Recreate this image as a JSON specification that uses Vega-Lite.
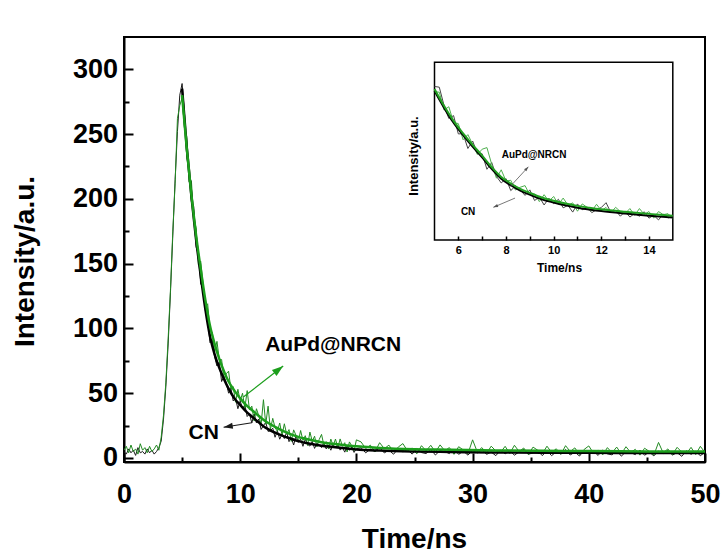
{
  "$schema": "https://vega.github.io/schema/vega-lite/v6.json",
  "width": 581,
  "height": 425,
  "autosize": {"type": "none"},
  "padding": {"left": 124, "top": 37, "right": 18, "bottom": 90},
  "background": "white",
  "config": {
    "font": "Liberation Sans",
    "view": {"stroke": "black", "strokeWidth": 2},
    "axis": {"grid": false, "labelColor": "black", "titleColor": "black", "tickColor": "black", "domainColor": "black", "labelFont": "Liberation Sans", "titleFont": "Liberation Sans"}
  },
  "datasets": {
    "main": [
      {"t":0,"cn":5,"au":6},{"t":0.2,"cn":3,"au":9},{"t":0.4,"cn":7,"au":4},{"t":0.6,"cn":4,"au":10},{"t":0.8,"cn":6,"au":5},
      {"t":1,"cn":2,"au":7},{"t":1.2,"cn":8,"au":3},{"t":1.4,"cn":4,"au":11},{"t":1.6,"cn":5,"au":6},{"t":1.8,"cn":3,"au":8},
      {"t":2,"cn":7,"au":4},{"t":2.2,"cn":4,"au":9},{"t":2.4,"cn":6,"au":5},{"t":2.6,"cn":3,"au":7},{"t":2.8,"cn":5,"au":10},
      {"t":3,"cn":8,"au":6},{"t":3.2,"cn":13,"au":16},{"t":3.4,"cn":30,"au":33},{"t":3.6,"cn":55,"au":58},{"t":3.8,"cn":88,"au":92},
      {"t":4,"cn":128,"au":130},{"t":4.2,"cn":172,"au":175},{"t":4.4,"cn":215,"au":212},{"t":4.6,"cn":252,"au":262},{"t":4.8,"cn":280,"au":272},
      {"t":5,"cn":289,"au":278},{"t":5.2,"cn":267,"au":255},{"t":5.4,"cn":232,"au":248},{"t":5.6,"cn":223,"au":213},{"t":5.8,"cn":198,"au":214},
      {"t":6,"cn":194,"au":185},{"t":6.2,"cn":163,"au":178},{"t":6.4,"cn":157,"au":149},{"t":6.6,"cn":134,"au":152},{"t":6.8,"cn":134,"au":135},
      {"t":7,"cn":114,"au":117},{"t":7.2,"cn":106,"au":119},{"t":7.4,"cn":89,"au":99},{"t":7.6,"cn":91,"au":97},{"t":7.8,"cn":78,"au":82},
      {"t":8,"cn":71,"au":90},{"t":8.2,"cn":74,"au":76},{"t":8.4,"cn":59,"au":76},{"t":8.6,"cn":63,"au":61},{"t":8.8,"cn":58,"au":65},
      {"t":9,"cn":50,"au":67},{"t":9.2,"cn":54,"au":53},{"t":9.4,"cn":44,"au":55},{"t":9.6,"cn":46,"au":43},{"t":9.8,"cn":38,"au":53},
      {"t":10,"cn":44,"au":44},{"t":10.2,"cn":38,"au":50},{"t":10.4,"cn":41,"au":38.5},{"t":10.6,"cn":32,"au":52},{"t":10.8,"cn":34,"au":37},
      {"t":11,"cn":27,"au":40},{"t":11.2,"cn":34,"au":28.5},{"t":11.4,"cn":27,"au":38},{"t":11.6,"cn":30,"au":32.5},{"t":11.8,"cn":22,"au":26},
      {"t":12,"cn":25,"au":45},{"t":12.2,"cn":27.5,"au":26},{"t":12.4,"cn":20.5,"au":40},{"t":12.6,"cn":21,"au":22},{"t":12.8,"cn":23,"au":30.6},
      {"t":13,"cn":16,"au":23.4},{"t":13.2,"cn":21,"au":20.6},{"t":13.4,"cn":14.5,"au":27},{"t":13.6,"cn":18.5,"au":17.6},{"t":13.8,"cn":15,"au":26.4},
      {"t":14,"cn":20,"au":18.4},{"t":14.2,"cn":12.6,"au":21.9},{"t":14.4,"cn":15.6,"au":12.8},{"t":14.6,"cn":10,"au":21.7},{"t":14.8,"cn":17,"au":17.5},
      {"t":15,"cn":12,"au":12.7},{"t":15.2,"cn":14.5,"au":21.2},{"t":15.4,"cn":9,"au":13.5},{"t":15.6,"cn":14.5,"au":17.2},{"t":15.8,"cn":10.5,"au":9.6},
      {"t":16,"cn":9.2,"au":20},{"t":16.2,"cn":12.8,"au":13},{"t":16.4,"cn":7.4,"au":16.8},{"t":16.6,"cn":11.3,"au":8.6},{"t":16.8,"cn":10.1,"au":14.3},
      {"t":17,"cn":8,"au":18.2},{"t":17.2,"cn":12,"au":9.9},{"t":17.4,"cn":7,"au":12.6},{"t":17.6,"cn":9.8,"au":6.9},{"t":17.8,"cn":6,"au":14.6},
      {"t":18,"cn":10.3,"au":9.4},{"t":18.2,"cn":7.7,"au":14.6},{"t":18.4,"cn":10.5,"au":7.9},{"t":18.6,"cn":6.1,"au":14.7},{"t":18.8,"cn":8,"au":9},
      {"t":19,"cn":4.5,"au":11.8},{"t":19.2,"cn":9.4,"au":4.6},{"t":19.4,"cn":5.9,"au":12.4},{"t":19.6,"cn":8.4,"au":9.3},{"t":19.8,"cn":4.3,"au":5.6},
      {"t":20,"cn":7.2,"au":14},{"t":20.4,"cn":7.9,"au":12.4},{"t":20.8,"cn":4.0,"au":7.3},{"t":21.2,"cn":6.8,"au":9.9},{"t":21.6,"cn":4.9,"au":4.8},
      {"t":22,"cn":8.2,"au":11.8},{"t":22.4,"cn":3.9,"au":7.2},{"t":22.8,"cn":6.0,"au":9.9},{"t":23.2,"cn":2.9,"au":4.6},{"t":23.6,"cn":7.3,"au":8.4},
      {"t":24,"cn":4.7,"au":11.1},{"t":24.4,"cn":6.4,"au":5.4},{"t":24.8,"cn":3.0,"au":7.7},{"t":25.2,"cn":7.2,"au":3.2},{"t":25.6,"cn":4.2,"au":9.5},
      {"t":26,"cn":3.4,"au":5.5},{"t":26.4,"cn":6.6,"au":9.8},{"t":26.8,"cn":2.3,"au":4.5},{"t":27.2,"cn":5.8,"au":10.1},{"t":27.6,"cn":5.0,"au":5.6},
      {"t":28,"cn":3.4,"au":8.0},{"t":28.4,"cn":6.9,"au":2.8},{"t":28.8,"cn":2.8,"au":8.7},{"t":29.2,"cn":5.3,"au":6.2},{"t":29.6,"cn":2.2,"au":3.3},
      {"t":30,"cn":5.9,"au":14},{"t":30.4,"cn":3.9,"au":4.8},{"t":30.8,"cn":6.4,"au":8.0},{"t":31.2,"cn":2.8,"au":3.5},{"t":31.6,"cn":4.6,"au":9.1},
      {"t":32,"cn":1.8,"au":5.5},{"t":32.4,"cn":6.0,"au":4.3},{"t":32.8,"cn":3.2,"au":9.0},{"t":33.2,"cn":5.5,"au":3.4},{"t":33.6,"cn":2.2,"au":9.8},
      {"t":34,"cn":4.7,"au":5.0},{"t":34.4,"cn":6.6,"au":7.7},{"t":34.8,"cn":2.9,"au":2.6},{"t":35.2,"cn":3.9,"au":8.4},{"t":35.6,"cn":5.6,"au":6.0},
      {"t":36,"cn":1.8,"au":3.2},{"t":36.4,"cn":5.6,"au":9.1},{"t":36.8,"cn":1.8,"au":4.3},{"t":37.2,"cn":4.8,"au":7.1},{"t":37.6,"cn":3.0,"au":2.8},
      {"t":38,"cn":6.5,"au":9.5},{"t":38.4,"cn":2.3,"au":5.0},{"t":38.8,"cn":4.5,"au":7.8},{"t":39.2,"cn":1.5,"au":2.6},{"t":39.6,"cn":6.0,"au":6.6},
      {"t":40,"cn":3.5,"au":9.3},{"t":40.4,"cn":5.2,"au":3.7},{"t":40.8,"cn":2.0,"au":6.1},{"t":41.2,"cn":6.2,"au":2.4},{"t":41.6,"cn":3.2,"au":8.0},
      {"t":42,"cn":2.4,"au":4.0},{"t":42.4,"cn":5.7,"au":8.4},{"t":42.8,"cn":1.4,"au":3.2},{"t":43.2,"cn":4.9,"au":8.7},{"t":43.6,"cn":4.2,"au":4.3},
      {"t":44,"cn":2.6,"au":6.7},{"t":44.4,"cn":6.1,"au":2.2},{"t":44.8,"cn":2.1,"au":7.5},{"t":45.2,"cn":4.6,"au":5.1},{"t":45.6,"cn":1.6,"au":2.3},
      {"t":46,"cn":5.4,"au":12},{"t":46.4,"cn":3.4,"au":3.9},{"t":46.8,"cn":5.8,"au":7.0},{"t":47.2,"cn":2.3,"au":2.6},{"t":47.6,"cn":4.1,"au":8.2},
      {"t":48,"cn":1.3,"au":4.6},{"t":48.4,"cn":5.6,"au":3.4},{"t":48.8,"cn":2.8,"au":8.2},{"t":49.2,"cn":5.1,"au":2.6},{"t":49.6,"cn":1.8,"au":9.0},
      {"t":50,"cn":4.3,"au":4.2}
    ],
    "fit": [
      {"t":5,"cn":285,"au":280},{"t":5.4,"cn":240,"au":239},{"t":5.8,"cn":202,"au":203},{"t":6.2,"cn":169,"au":172},{"t":6.6,"cn":141,"au":146},
      {"t":7,"cn":115,"au":122},{"t":7.4,"cn":94,"au":102},{"t":7.8,"cn":80,"au":88},{"t":8.2,"cn":69.5,"au":76.5},{"t":8.6,"cn":61,"au":67},
      {"t":9,"cn":53.5,"au":59},{"t":9.5,"cn":46,"au":52},{"t":10,"cn":41,"au":46},{"t":10.5,"cn":36,"au":41},{"t":11,"cn":32,"au":37},
      {"t":11.5,"cn":28.2,"au":33.2},{"t":12,"cn":24.5,"au":29.5},{"t":13,"cn":19.5,"au":24},{"t":14,"cn":16,"au":19.6},{"t":15,"cn":13,"au":16.3},
      {"t":16,"cn":11,"au":14},{"t":17,"cn":9.5,"au":12.2},{"t":18,"cn":8.5,"au":10.9},{"t":19,"cn":7.5,"au":9.8},{"t":20,"cn":6.6,"au":9},
      {"t":22,"cn":5.7,"au":7.8},{"t":25,"cn":5.0,"au":6.8},{"t":28,"cn":4.65,"au":6.4},{"t":32,"cn":4.28,"au":5.87},{"t":36,"cn":4.08,"au":5.56},
      {"t":40,"cn":4.0,"au":5.3},{"t":45,"cn":3.88,"au":5.08},{"t":50,"cn":3.8,"au":5.0}
    ],
    "arrows": [
      {"s":"au","t1":10.27,"v1":47,"t2":13.7,"v2":71},
      {"s":"cn","t1":11.0,"v1":27.2,"t2":8.57,"v2":23.7}
    ],
    "labels": [
      {"t":18.0,"v":87,"label":"AuPd@NRCN"},
      {"t":6.86,"v":19,"label":"CN"}
    ],
    "frame": [{"x1":5,"x2":15,"y1":0,"y2":100}],
    "inset": [
      {"t":5,"cn":86.4,"au":83.4},{"t":5.2,"cn":86,"au":83.2},{"t":5.4,"cn":75.7,"au":73.1},{"t":5.6,"cn":68.4,"au":75},{"t":5.8,"cn":70,"au":66.2},
      {"t":6,"cn":59.7,"au":65.5},{"t":6.2,"cn":59.8,"au":56.4},{"t":6.4,"cn":51.5,"au":59.3},{"t":6.6,"cn":55.7,"au":53.9},{"t":6.8,"cn":48.7,"au":48.1},
      {"t":7,"cn":48.5,"au":51.1},{"t":7.2,"cn":39.8,"au":52},{"t":7.4,"cn":43.6,"au":42.6},{"t":7.6,"cn":35.8,"au":34.8},{"t":7.8,"cn":32.1,"au":39.5},
      {"t":8,"cn":34.6,"au":33.2},{"t":8.2,"cn":27.8,"au":33.6},{"t":8.4,"cn":30.4,"au":28.1},{"t":8.6,"cn":28.1,"au":29.7},{"t":8.8,"cn":25.1,"au":30.6},
      {"t":9,"cn":28.2,"au":25.3},{"t":9.2,"cn":22.2,"au":25.9},{"t":9.4,"cn":24.2,"au":21.6},{"t":9.6,"cn":19.7,"au":25.5},{"t":9.8,"cn":23.5,"au":21.8},
      {"t":10,"cn":20.5,"au":24.5},{"t":10.2,"cn":22.9,"au":20},{"t":10.4,"cn":18.1,"au":23.6},{"t":10.6,"cn":19.5,"au":19.6},{"t":10.8,"cn":15.7,"au":20.9},
      {"t":11,"cn":20.3,"au":16.2},{"t":11.2,"cn":17,"au":20.3},{"t":11.4,"cn":18.4,"au":18.4},{"t":11.6,"cn":15.4,"au":16.3},{"t":11.8,"cn":17,"au":20.1},
      {"t":12,"cn":18.3,"au":16.6},{"t":12.2,"cn":21,"au":18.3},{"t":12.4,"cn":15.5,"au":15.2},{"t":12.6,"cn":16.6,"au":18.4},{"t":12.8,"cn":13.4,"au":16},
      {"t":13,"cn":16.1,"au":14.9},{"t":13.2,"cn":12.9,"au":17.7},{"t":13.4,"cn":15,"au":13.9},{"t":13.6,"cn":13.4,"au":17.7},{"t":13.8,"cn":15.9,"au":14.4},
      {"t":14,"cn":12.3,"au":16},{"t":14.2,"cn":13.9,"au":12.3},{"t":14.4,"cn":11.3,"au":16},{"t":14.6,"cn":14.6,"au":14.3},{"t":14.8,"cn":12.4,"au":14.8},
      {"t":15,"cn":13.6,"au":12.1}
    ],
    "ifit": [
      {"t":5,"cn":84,"au":85},{"t":5.4,"cn":74.5,"au":75.5},{"t":5.8,"cn":66,"au":67},{"t":6.2,"cn":59,"au":60},{"t":6.6,"cn":52.5,"au":53.5},
      {"t":7,"cn":46.5,"au":47.5},{"t":7.4,"cn":40,"au":41},{"t":7.8,"cn":34.5,"au":35.5},{"t":8.2,"cn":30.8,"au":31.8},{"t":8.6,"cn":27.8,"au":28.8},
      {"t":9,"cn":25.5,"au":26.5},{"t":9.5,"cn":22.9,"au":23.9},{"t":10,"cn":21.1,"au":22.1},{"t":10.5,"cn":19.5,"au":20.5},{"t":11,"cn":18.2,"au":19.2},
      {"t":11.5,"cn":17.2,"au":18.2},{"t":12,"cn":16.3,"au":17.3},{"t":13,"cn":14.9,"au":15.9},{"t":14,"cn":13.7,"au":14.7},{"t":15,"cn":12.6,"au":13.6}
    ],
    "iarrows": [
      {"s":"au","t1":8.17,"v1":30.0,"t2":8.94,"v2":41.2},
      {"s":"cn","t1":8.38,"v1":23.6,"t2":7.47,"v2":18.4}
    ],
    "ilabels": [
      {"t":9.18,"v":47.8,"label":"AuPd@NRCN"},
      {"t":6.41,"v":15.5,"label":"CN"}
    ]
  },
  "layer": [
    {
      "layer": [
        {
          "data": {"name": "main"},
          "mark": {"type": "line", "color": "#1a1a1a", "strokeWidth": 1, "clip": true},
          "encoding": {
            "x": {"field": "t", "type": "quantitative", "scale": {"domain": [0, 50], "nice": false, "zero": false},
              "axis": {"orient": "bottom", "values": [0, 10, 20, 30, 40, 50], "format": "d", "tickSize": -9, "tickWidth": 2, "domainWidth": 2,
                "labelFontSize": 27, "labelFontWeight": "bold", "labelPadding": 28, "labelFlush": false,
                "title": "Time/ns", "titleFontSize": 28, "titleFontWeight": "bold", "titleX": 290, "titleY": 63, "titleBaseline": "top", "titleAlign": "center"}},
            "y": {"field": "cn", "type": "quantitative", "scale": {"domain": [-3.1, 324.9], "nice": false, "zero": false},
              "axis": {"orient": "left", "values": [0, 50, 100, 150, 200, 250, 300], "format": "d", "tickSize": -9, "tickWidth": 2, "domainWidth": 2,
                "labelFontSize": 27, "labelFontWeight": "bold", "labelPadding": 15.5, "labelFlush": false,
                "title": "Intensity/a.u.", "titleFontSize": 28, "titleFontWeight": "bold", "titleAngle": 270, "titleBaseline": "bottom", "titleAlign": "center", "titleX": -85, "titleY": 224}}
          }
        },
        {
          "data": {"name": "main"},
          "mark": {"type": "line", "color": "#238b23", "strokeWidth": 1, "clip": true},
          "encoding": {"x": {"field": "t", "type": "quantitative"}, "y": {"field": "au", "type": "quantitative"}}
        },
        {
          "data": {"name": "fit"},
          "mark": {"type": "line", "color": "#000000", "strokeWidth": 2.5, "interpolate": "monotone"},
          "encoding": {"x": {"field": "t", "type": "quantitative"}, "y": {"field": "cn", "type": "quantitative"}}
        },
        {
          "data": {"name": "fit"},
          "mark": {"type": "line", "color": "#1c9e1c", "strokeWidth": 2.5, "interpolate": "monotone"},
          "encoding": {"x": {"field": "t", "type": "quantitative"}, "y": {"field": "au", "type": "quantitative"}}
        },
        {
          "data": {"name": "arrows"},
          "transform": [{"filter": "datum.s === 'au'"}],
          "mark": {"type": "rule", "color": "#1c9e1c", "strokeWidth": 1.2},
          "encoding": {"x": {"field": "t1", "type": "quantitative"}, "y": {"field": "v1", "type": "quantitative"}, "x2": {"field": "t2"}, "y2": {"field": "v2"}}
        },
        {
          "data": {"name": "arrows"},
          "transform": [{"filter": "datum.s === 'au'"}],
          "mark": {"type": "point", "shape": "M0,0L-0.5,1.5L0.5,1.5Z", "filled": true, "color": "#1c9e1c", "size": 230, "angle": 52, "opacity": 1},
          "encoding": {"x": {"field": "t2", "type": "quantitative"}, "y": {"field": "v2", "type": "quantitative"}}
        },
        {
          "data": {"name": "arrows"},
          "transform": [{"filter": "datum.s === 'cn'"}],
          "mark": {"type": "rule", "color": "#1a1a1a", "strokeWidth": 1.2},
          "encoding": {"x": {"field": "t1", "type": "quantitative"}, "y": {"field": "v1", "type": "quantitative"}, "x2": {"field": "t2"}, "y2": {"field": "v2"}}
        },
        {
          "data": {"name": "arrows"},
          "transform": [{"filter": "datum.s === 'cn'"}],
          "mark": {"type": "point", "shape": "M0,0L-0.5,1.5L0.5,1.5Z", "filled": true, "color": "#1a1a1a", "size": 150, "angle": 261, "opacity": 1},
          "encoding": {"x": {"field": "t2", "type": "quantitative"}, "y": {"field": "v2", "type": "quantitative"}}
        },
        {
          "data": {"name": "labels"},
          "mark": {"type": "text", "font": "Liberation Sans", "fontSize": 21, "fontWeight": "bold", "color": "black", "align": "center", "baseline": "middle"},
          "encoding": {"x": {"field": "t", "type": "quantitative"}, "y": {"field": "v", "type": "quantitative"}, "text": {"field": "label"}}
        }
      ]
    },
    {
      "data": {"name": "fit"},
      "mark": {"type": "line", "opacity": 0},
      "encoding": {
        "x": {"field": "t", "type": "quantitative", "scale": {"domain": [0, 50], "nice": false, "zero": false},
          "axis": {"orient": "bottom", "values": [5, 15, 25, 35, 45], "tickSize": -5, "tickWidth": 2, "labels": false, "domain": false, "title": null}},
        "y": {"field": "cn", "type": "quantitative", "scale": {"domain": [-3.1, 324.9], "nice": false, "zero": false},
          "axis": {"orient": "left", "values": [25, 75, 125, 175, 225, 275], "tickSize": -5, "tickWidth": 2, "labels": false, "domain": false, "title": null}}
      }
    },
    {
      "layer": [
        {
          "data": {"name": "frame"},
          "mark": {"type": "rect", "fillOpacity": 0, "stroke": "black", "strokeWidth": 1.5},
          "encoding": {
            "x": {"field": "x1", "type": "quantitative", "scale": {"domain": [5, 15], "range": [310.5, 548.8], "nice": false, "zero": false},
              "axis": {"orient": "bottom", "offset": -222, "values": [6, 7, 8, 9, 10, 11, 12, 13, 14], "format": "d", "labelExpr": "datum.value % 2 === 0 ? datum.label : ''",
                "tickSize": -4, "tickWidth": 1.5, "domain": false, "labelFontSize": 11, "labelFontWeight": "bold", "labelPadding": 8, "labelFlush": false,
                "title": "Time/ns", "titleFontSize": 12, "titleFontWeight": "bold", "titleX": 435, "titleY": 22, "titleBaseline": "top", "titleAlign": "center"}},
            "x2": {"field": "x2"},
            "y": {"field": "y1", "type": "quantitative", "scale": {"domain": [0, 100], "range": [203, 25.3], "nice": false, "zero": false},
              "axis": {"orient": "left", "offset": -310.5, "ticks": false, "labels": false, "domain": false,
                "title": "Intensity/a.u.", "titleFontSize": 13, "titleFontWeight": "bold", "titleAngle": 270, "titleBaseline": "bottom", "titleAlign": "center", "titleX": -14.5, "titleY": 118.5}},
            "y2": {"field": "y2"}
          }
        },
        {
          "data": {"name": "inset"},
          "mark": {"type": "line", "color": "#444444", "strokeWidth": 1},
          "encoding": {"x": {"field": "t", "type": "quantitative"}, "y": {"field": "cn", "type": "quantitative"}}
        },
        {
          "data": {"name": "inset"},
          "mark": {"type": "line", "color": "#4fb04f", "strokeWidth": 1},
          "encoding": {"x": {"field": "t", "type": "quantitative"}, "y": {"field": "au", "type": "quantitative"}}
        },
        {
          "data": {"name": "ifit"},
          "mark": {"type": "line", "color": "#000000", "strokeWidth": 2, "interpolate": "monotone"},
          "encoding": {"x": {"field": "t", "type": "quantitative"}, "y": {"field": "cn", "type": "quantitative"}}
        },
        {
          "data": {"name": "ifit"},
          "mark": {"type": "line", "color": "#22a022", "strokeWidth": 2, "interpolate": "monotone"},
          "encoding": {"x": {"field": "t", "type": "quantitative"}, "y": {"field": "au", "type": "quantitative"}}
        },
        {
          "data": {"name": "iarrows"},
          "mark": {"type": "rule", "color": "#555555", "strokeWidth": 0.8},
          "encoding": {"x": {"field": "t1", "type": "quantitative"}, "y": {"field": "v1", "type": "quantitative"}, "x2": {"field": "t2"}, "y2": {"field": "v2"}}
        },
        {
          "data": {"name": "iarrows"},
          "transform": [{"filter": "datum.s === 'au'"}],
          "mark": {"type": "point", "shape": "M0,0L-0.5,1.5L0.5,1.5Z", "filled": true, "color": "#555555", "size": 40, "angle": 42, "opacity": 1},
          "encoding": {"x": {"field": "t2", "type": "quantitative"}, "y": {"field": "v2", "type": "quantitative"}}
        },
        {
          "data": {"name": "iarrows"},
          "transform": [{"filter": "datum.s === 'cn'"}],
          "mark": {"type": "point", "shape": "M0,0L-0.5,1.5L0.5,1.5Z", "filled": true, "color": "#555555", "size": 40, "angle": 247, "opacity": 1},
          "encoding": {"x": {"field": "t2", "type": "quantitative"}, "y": {"field": "v2", "type": "quantitative"}}
        },
        {
          "data": {"name": "ilabels"},
          "mark": {"type": "text", "font": "Liberation Sans", "fontSize": 10, "fontWeight": "bold", "color": "black", "align": "center", "baseline": "middle"},
          "encoding": {"x": {"field": "t", "type": "quantitative"}, "y": {"field": "v", "type": "quantitative"}, "text": {"field": "label"}}
        }
      ]
    }
  ],
  "resolve": {"scale": {"x": "independent", "y": "independent"}, "axis": {"x": "independent", "y": "independent"}}
}
